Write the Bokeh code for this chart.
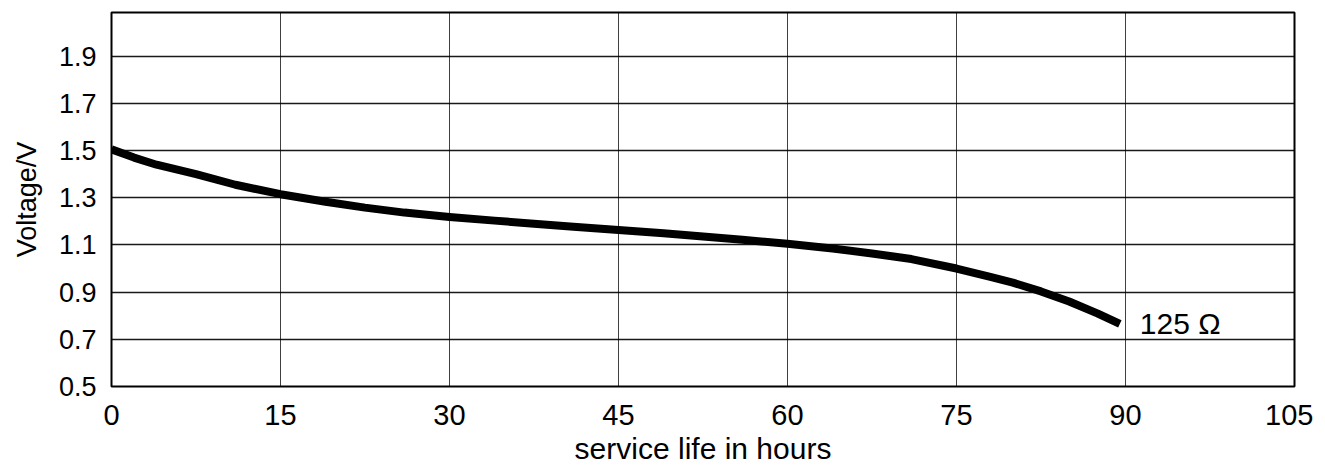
from bokeh.plotting import figure
from bokeh.models import FixedTicker, Range1d, Label
from bokeh.embed import file_html
from bokeh.resources import INLINE

# Data
hours = [0, 2, 4, 7.5, 11, 15, 19, 22.5, 26, 30, 34, 37.5, 41, 45, 49, 52.5, 56,
         60, 64, 67.5, 71, 75, 78, 80, 82.5, 85, 87.5, 89.5]
volts = [1.505, 1.47, 1.44, 1.40, 1.355, 1.315, 1.283, 1.258, 1.237, 1.218, 1.203,
         1.19, 1.177, 1.163, 1.149, 1.136, 1.122, 1.105, 1.085, 1.064, 1.04, 1.0,
         0.965, 0.94, 0.903, 0.86, 0.81, 0.765]
x_ticks = [0, 15, 30, 45, 60, 75, 90, 105]
y_ticks = [0.5, 0.7, 0.9, 1.1, 1.3, 1.5, 1.7, 1.9]
curve_label = "125 Ω"
x_title = "service life in hours"
y_title = "Voltage/V"

FONT = "Liberation Sans"

p = figure(width=1313, height=467, output_backend="svg", toolbar_location=None,
           x_range=Range1d(0, 105), y_range=Range1d(0.5, 2.085),
           min_border_left=111, min_border_top=12, min_border_right=19, min_border_bottom=79)

p.outline_line_color = "black"
p.outline_line_width = 2
p.background_fill_color = "white"
p.border_fill_color = "white"

p.xaxis.ticker = FixedTicker(ticks=x_ticks)
p.yaxis.ticker = FixedTicker(ticks=y_ticks)
p.xaxis.axis_label = x_title
p.yaxis.axis_label = y_title

for ax in (p.xaxis[0], p.yaxis[0]):
    ax.axis_line_color = None
    ax.major_tick_line_color = None
    ax.minor_tick_line_color = None
    ax.major_tick_out = 0
    ax.major_label_text_font = FONT
    ax.major_label_text_color = "black"
    ax.axis_label_text_font = FONT
    ax.axis_label_text_font_style = "normal"
    ax.axis_label_text_color = "black"

p.xaxis.major_label_text_font_size = "29px"
p.xaxis.major_label_standoff = 18
p.xaxis.axis_label_text_font_size = "30px"
p.xaxis.axis_label_standoff = 4

p.yaxis.major_label_text_font_size = "27px"
p.yaxis.major_label_standoff = 15
p.yaxis.axis_label_text_font_size = "27px"
p.yaxis.axis_label_standoff = 14

p.xgrid.ticker = FixedTicker(ticks=x_ticks)
p.ygrid.ticker = FixedTicker(ticks=y_ticks)
p.xgrid.grid_line_color = "black"
p.ygrid.grid_line_color = "black"
p.xgrid.grid_line_width = 1
p.ygrid.grid_line_width = 1.3
p.xgrid.grid_line_alpha = 0.75
p.ygrid.grid_line_alpha = 0.9

p.line(hours, volts, line_color="black", line_width=8, line_join="round")

p.add_layout(Label(x=hours[-1], y=volts[-1], x_offset=20, y_offset=0, text=curve_label,
                   text_font=FONT, text_font_size="30px", text_color="black",
                   text_baseline="middle"))

open("out.html", "w").write(file_html(p, INLINE))
